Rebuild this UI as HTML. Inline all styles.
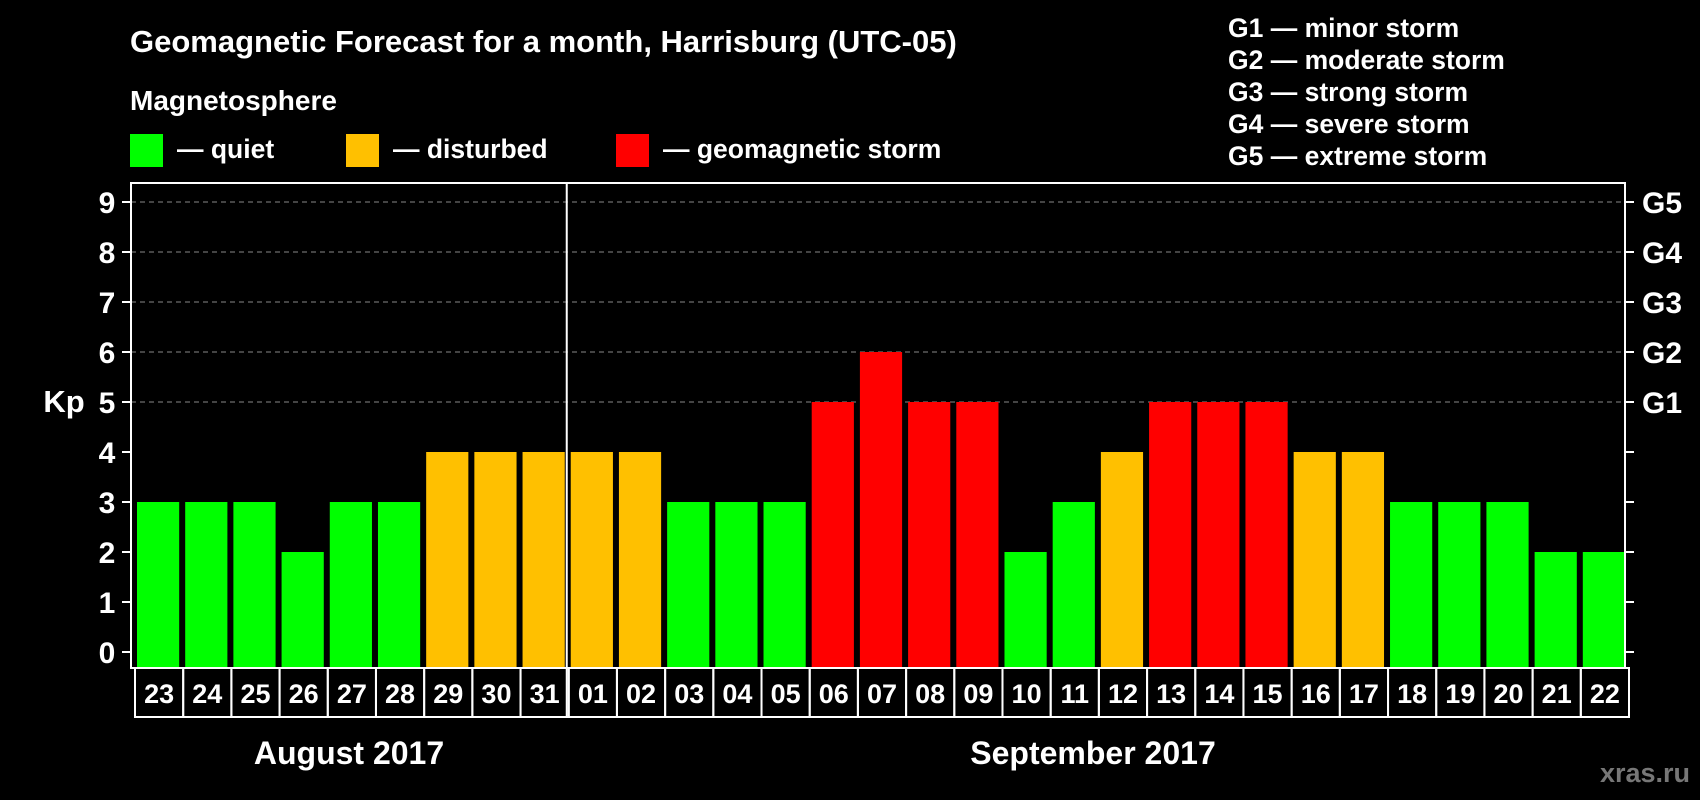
<!DOCTYPE html>
<html><head><meta charset="utf-8"><style>
html,body{margin:0;padding:0;background:#000;}
svg{display:block;font-family:"Liberation Sans",Arial,sans-serif;font-weight:bold;}
</style></head><body>
<svg id="chart" width="1700" height="800" viewBox="0 0 1700 800">
<text x="130" y="52" fill="#fff" font-size="31">Geomagnetic Forecast for a month, Harrisburg (UTC-05)</text>
<text x="130" y="110" fill="#fff" font-size="28">Magnetosphere</text>
<rect x="130" y="134" width="33" height="33" fill="#00ff00"/>
<text x="177" y="158" fill="#fff" font-size="26.5">— quiet</text>
<rect x="346" y="134" width="33" height="33" fill="#ffc000"/>
<text x="393" y="158" fill="#fff" font-size="26.5">— disturbed</text>
<rect x="616" y="134" width="33" height="33" fill="#ff0000"/>
<text x="663" y="158" fill="#fff" font-size="26.5">— geomagnetic storm</text>
<g font-size="26.5" fill="#fff">
<text x="1228" y="37">G1 — minor storm</text>
<text x="1228" y="69">G2 — moderate storm</text>
<text x="1228" y="101">G3 — strong storm</text>
<text x="1228" y="133">G4 — severe storm</text>
<text x="1228" y="165">G5 — extreme storm</text>
</g>
<text x="64" y="412" fill="#fff" font-size="31" text-anchor="middle">Kp</text>
<text x="349" y="764" fill="#fff" font-size="32" text-anchor="middle">August 2017</text>
<text x="1093" y="764" fill="#fff" font-size="32" text-anchor="middle">September 2017</text>
<text x="1690" y="782" fill="#777" font-size="27" text-anchor="end">xras.ru</text>
<g id="plot"></g>
</svg>
<script>
const days = ["23","24","25","26","27","28","29","30","31","01","02","03","04","05","06","07","08","09","10","11","12","13","14","15","16","17","18","19","20","21","22"];
const kp = [3,3,3,2,3,3,4,4,4,4,4,3,3,3,5,6,5,5,2,3,4,5,5,5,4,4,3,3,3,2,2];
const yTicks = [0,1,2,3,4,5,6,7,8,9];
const gLabels = ["G1","G2","G3","G4","G5"];
const gLevels = [5,6,7,8,9];
const monthBreak = 9;

const NS="http://www.w3.org/2000/svg";
const g=document.getElementById('plot');
const L=131,R=1625,T=183,B=668,y0=652,y9=202,CB=717;
const yS=v=>y0-(y0-y9)*v/9;
const pitch=(R-L)/days.length;
const xS=i=>L+i*pitch;
function mk(t,a){const e=document.createElementNS(NS,t);for(const k in a)e.setAttribute(k,a[k]);g.appendChild(e);return e;}
function col(v){return v>=5?"#ff0000":(v>=4?"#ffc000":"#00ff00");}
gLevels.forEach(v=>{const e=mk('line',{x1:L,x2:R,y1:yS(v),y2:yS(v),stroke:'#888','stroke-width':1,'stroke-dasharray':'5,4'});

});
kp.forEach((v,i)=>{const e=mk('rect',{x:xS(i)+6,y:yS(v),width:pitch-6,height:B-yS(v),fill:col(v)});


const c=mk('rect',{x:xS(i)+4,y:B,width:pitch,height:CB-B,fill:'none',stroke:'#fff','stroke-width':2});


const t=mk('text',{x:xS(i)+pitch/2+4,y:B+35,fill:'#fff','font-size':27,'text-anchor':'middle'});t.textContent=days[i];

});
const fr=mk('rect',{x:L,y:T,width:R-L,height:B-T,fill:'none',stroke:'#fff','stroke-width':2});


const d=mk('line',{x1:xS(monthBreak)+2,x2:xS(monthBreak)+2,y1:T,y2:CB,stroke:'#fff','stroke-width':2});


yTicks.forEach(v=>{const y=yS(v);
const a=mk('line',{x1:L-9,x2:L,y1:y,y2:y,stroke:'#fff','stroke-width':2});


const b=mk('line',{x1:R,x2:R+9,y1:y,y2:y,stroke:'#fff','stroke-width':2});


const t=mk('text',{x:107,y:y+11,fill:'#fff','font-size':30,'text-anchor':'middle'});t.textContent=v;

});
gLevels.forEach((v,i)=>{const t=mk('text',{x:1642,y:yS(v)+11,fill:'#fff','font-size':30});t.textContent=gLabels[i];

});
</script>
</body></html>
